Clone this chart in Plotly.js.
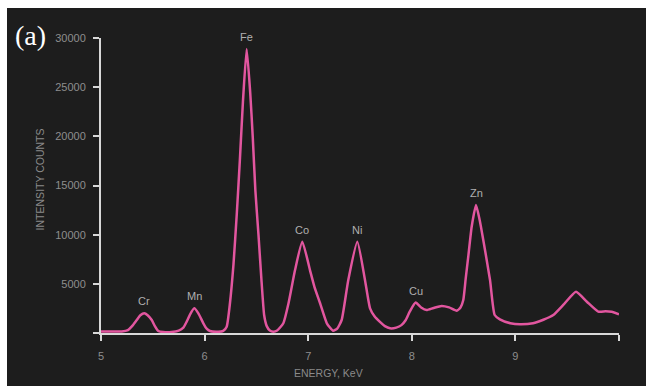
<!DOCTYPE html>
<html>
<head>
<meta charset="utf-8">
<script src="https://cdn.plot.ly/plotly-3.0.1.min.js"></script>
<style>
  html, body { margin: 0; padding: 0; background: #ffffff; width: 646px; height: 386px; overflow: hidden; }
  #chart { position: absolute; left: 7px; top: 8px; width: 639px; height: 378px; }
</style>
</head>
<body>
<div id="chart"></div>
<script>
// Energy (keV) and intensity counts
const energy = [5.00, 5.10, 5.20, 5.26, 5.30, 5.345, 5.38, 5.418, 5.45, 5.49, 5.52, 5.553, 5.60, 5.68,
  5.75, 5.795, 5.827, 5.86, 5.90, 5.94, 5.988, 6.02, 6.052, 6.13, 6.18, 6.213, 6.245, 6.279, 6.31,
  6.34, 6.37, 6.406, 6.44, 6.465, 6.49, 6.52, 6.55, 6.575, 6.60, 6.63, 6.663, 6.70,
  6.76, 6.81, 6.873, 6.943, 7.017, 7.06, 7.114, 7.18, 7.24, 7.28, 7.323, 7.387, 7.474, 7.548, 7.597,
  7.64, 7.69, 7.74, 7.79, 7.85, 7.90, 7.94, 7.98, 8.037, 8.09, 8.143, 8.21, 8.289, 8.36, 8.433, 8.47,
  8.497, 8.52, 8.545, 8.578, 8.62, 8.655, 8.69, 8.755, 8.80, 8.85, 8.95, 9.044, 9.17, 9.27, 9.366,
  9.462, 9.585, 9.69, 9.80, 9.87, 9.93, 10.0];
const counts = [150, 150, 160, 300, 700, 1320, 1800, 2000, 1800, 1320, 700, 200, 100, 100,
  250, 550, 1150, 1900, 2510, 2000, 990, 450, 200, 120, 220, 640, 3050, 7000, 12000,
  17500, 23500, 28880, 24500, 19900, 14500, 10000, 5200, 1800, 700, 250, 130, 250,
  990, 3020, 6400, 9290, 6400, 4700, 3050, 990, 230, 450, 1320, 5400, 9290, 5400, 2510,
  1700, 1150, 700, 480, 550, 800, 1300, 2170, 3100, 2600, 2340, 2550, 2750, 2600, 2270, 2600,
  3360, 5500, 7760, 10810, 13020, 11500, 9460, 5390, 1830, 1390, 1000, 880, 990, 1350, 1830,
  2850, 4200, 3180, 2170, 2200, 2170, 1900];

// Peak labels
const peakNames = ['Cr', 'Mn', 'Fe', 'Co', 'Ni', 'Cu', 'Zn'];
const peakX = [5.418, 5.90, 6.406, 6.943, 7.474, 8.04, 8.62];
const peakY = [2000, 2510, 28880, 9290, 9290, 3100, 13020];

// Axis ticks
const xTickVals = [5, 6, 7, 8, 9, 10];
const xTickText = ['5', '6', '7', '8', '9', ''];
const yTickVals = [0, 5000, 10000, 15000, 20000, 25000, 30000];
const yTickText = ['', '5000', '10000', '15000', '20000', '25000', '30000'];

const bg = '#1d1d1d';
const axisCol = '#d8d8d8';
const tickFont = { family: 'Liberation Sans, Arial, sans-serif', size: 11, color: '#8e8e8e' };

const trace = {
  x: energy, y: counts, type: 'scatter', mode: 'lines',
  line: { color: '#e2569f', width: 2.5, shape: 'spline', smoothing: 0.5 },
  hoverinfo: 'skip'
};

const annotations = peakNames.map((n, i) => ({
  x: peakX[i], y: peakY[i], xref: 'x', yref: 'y', text: n, showarrow: false,
  yanchor: 'bottom', yshift: 4,
  font: { family: 'Liberation Sans, Arial, sans-serif', size: 11, color: '#b0b0b0' }
}));

annotations.push({
  xref: 'paper', yref: 'paper', x: (328.7 - 101) / 518, y: -0.1346, xanchor: 'center', yanchor: 'middle',
  text: 'ENERGY, KeV', showarrow: false,
  font: { family: 'Liberation Sans, Arial, sans-serif', size: 10.5, color: '#8a8a8a' }
});
annotations.push({
  xref: 'paper', yref: 'paper', x: -0.118, y: (333 - 179.5) / 295, xanchor: 'center', yanchor: 'middle',
  text: 'INTENSITY COUNTS', textangle: -90, showarrow: false,
  font: { family: 'Liberation Sans, Arial, sans-serif', size: 10.5, color: '#8a8a8a' }
});
annotations.push({
  xref: 'paper', yref: 'paper', x: -0.137, y: 1.007, xanchor: 'center', yanchor: 'middle',
  text: '(a)', showarrow: false,
  font: { family: 'Liberation Serif, Times New Roman, serif', size: 28, color: '#ffffff' }
});

const layout = {
  width: 639, height: 378,
  margin: { l: 94, r: 27, t: 30, b: 53 },
  paper_bgcolor: bg, plot_bgcolor: bg,
  showlegend: false,
  xaxis: {
    range: [5, 10], showgrid: false, zeroline: false,
    showline: true, linecolor: axisCol, linewidth: 2,
    ticks: 'outside', ticklen: 6, tickwidth: 2, tickcolor: axisCol,
    tickvals: xTickVals, ticktext: xTickText, tickfont: tickFont, ticklabelstandoff: 6
  },
  yaxis: {
    range: [0, 30000], showgrid: false, zeroline: false,
    showline: true, linecolor: axisCol, linewidth: 2,
    ticks: 'outside', ticklen: 6, tickwidth: 2, tickcolor: axisCol,
    tickvals: yTickVals, ticktext: yTickText, tickfont: tickFont, ticklabelstandoff: 5
  },
  annotations: annotations
};

Plotly.newPlot('chart', [trace], layout, { displayModeBar: false, staticPlot: true });
</script>
</body>
</html>
